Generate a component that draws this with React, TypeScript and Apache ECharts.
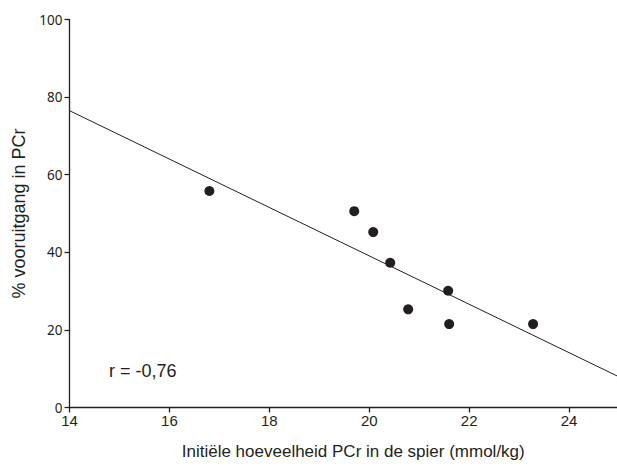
import React, { useEffect, useRef } from "react";
import * as echarts from "echarts";

const pcrInitial = [16.8, 19.7, 20.08, 20.42, 20.78, 21.58, 21.6, 23.28];
const pcrGain = [55.8, 50.6, 45.2, 37.3, 25.3, 30.1, 21.5, 21.5];
const fitLineX = [14, 25];
const fitLineY = [76.5, 7.9];
const xTicks = [14, 16, 18, 20, 22, 24];
const yTicks = [0, 20, 40, 60, 80, 100];
const annotation = "r = -0,76";

export default function App() {
  const ref = useRef<HTMLDivElement>(null);
  useEffect(() => {
    if (!ref.current) return;
    const chart = echarts.init(ref.current, undefined, { renderer: "svg" });
    const ink = "#231f20";
    chart.setOption({
      animation: false,
      backgroundColor: "#ffffff",
      grid: { left: 69.5, top: 19.5, bottom: 61.5, right: 0, containLabel: false },
      xAxis: {
        type: "value",
        min: xTicks[0],
        max: 24.96,
        axisLine: { show: true, onZero: false, lineStyle: { color: ink, width: 1.3 } },
        axisTick: {
          show: true,
          length: 5,
          customValues: xTicks,
          lineStyle: { color: ink, width: 1.3 },
        },
        splitLine: { show: false },
        axisLabel: {
          color: ink,
          fontFamily: "Liberation Sans",
          fontSize: 15,
          margin: 5,
          customValues: xTicks,
          formatter: (v: number) => String(v),
        },
        name: "Initiële hoeveelheid PCr in de spier (mmol/kg)",
        nameLocation: "middle",
        nameGap: 35,
        nameTextStyle: {
          color: ink,
          fontFamily: "Liberation Sans",
          fontSize: 17,
          padding: [0, 0, 0, 20],
        },
      },
      yAxis: {
        type: "value",
        min: yTicks[0],
        max: yTicks[yTicks.length - 1],
        interval: 20,
        axisLine: { show: true, onZero: false, lineStyle: { color: ink, width: 1.3 } },
        axisTick: { show: true, length: 5, lineStyle: { color: ink, width: 1.3 } },
        splitLine: { show: false },
        axisLabel: {
          color: ink,
          fontFamily: "Noto Sans",
          fontSize: 13.5,
          margin: 7,
        },
        name: "% vooruitgang in PCr",
        nameLocation: "middle",
        nameGap: 42,
        nameTextStyle: { color: ink, fontFamily: "Liberation Sans", fontSize: 18 },
      },
      series: [
        {
          type: "line",
          data: fitLineX.map((x, i) => [x, fitLineY[i]]),
          showSymbol: false,
          symbol: "none",
          lineStyle: { color: ink, width: 1 },
          silent: true,
        },
        {
          type: "scatter",
          data: pcrInitial.map((x, i) => [x, pcrGain[i]]),
          symbol: "circle",
          symbolSize: 10,
          itemStyle: { color: ink, opacity: 1 },
        },
      ],
      graphic: [
        {
          type: "text",
          left: 109,
          top: 362,
          style: {
            text: annotation,
            fill: ink,
            font: "18px 'Liberation Sans'",
          },
        },
      ],
    });
    return () => chart.dispose();
  }, []);
  return (
    <div
      ref={ref}
      style={{ position: "fixed", left: 0, top: 0, width: 617, height: 469 }}
    />
  );
}
